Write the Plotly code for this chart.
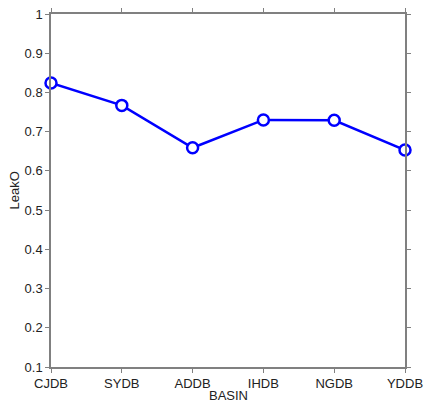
import plotly.graph_objects as go

basins = ["CJDB", "SYDB", "ADDB", "IHDB", "NGDB", "YDDB"]
leako = [0.824, 0.767, 0.659, 0.730, 0.729, 0.653]
y_ticks = [0.1, 0.2, 0.3, 0.4, 0.5, 0.6, 0.7, 0.8, 0.9, 1]
y_tick_text = ["0.1", "0.2", "0.3", "0.4", "0.5", "0.6", "0.7", "0.8", "0.9", "1"]

fig = go.Figure()
fig.add_trace(go.Scatter(
    x=list(range(len(basins))), y=leako, mode="lines+markers",
    line=dict(color="#0000ff", width=2.5),
    marker=dict(symbol="circle", size=11, color="white",
                line=dict(color="#0000ff", width=2.5)),
    cliponaxis=False, showlegend=False,
))

axis_common = dict(
    showline=True, linecolor="#808080", linewidth=1.5, mirror="ticks",
    ticks="outside", ticklen=4, tickcolor="#808080", tickwidth=1,
    showgrid=False, zeroline=False, automargin=False,
    tickfont=dict(family="Liberation Sans, Arial", size=13, color="#222"),
)

fig.update_layout(
    width=426, height=403,
    margin=dict(l=51, r=21, t=14, b=36),
    paper_bgcolor="white", plot_bgcolor="white",
    font=dict(family="Liberation Sans, Arial", size=13, color="#222"),
    xaxis=dict(
        range=[0, len(basins) - 1],
        tickmode="array", tickvals=list(range(len(basins))), ticktext=basins,
        ticklabelstandoff=0,
        **axis_common,
    ),
    yaxis=dict(
        range=[0.1, 1],
        tickmode="array", tickvals=y_ticks, ticktext=y_tick_text,
        **axis_common,
    ),
    annotations=[
        dict(text="BASIN", xref="paper", yref="paper", x=0.5, y=0,
             xanchor="center", yanchor="middle", yshift=-28,
             showarrow=False, font=dict(size=13)),
        dict(text="LeakO", xref="paper", yref="paper", x=0, y=0.5,
             xanchor="center", yanchor="middle", xshift=-37, textangle=-90,
             showarrow=False, font=dict(size=13)),
    ],
)

fig.write_html("out.html", post_script="document.body.style.margin='0';",
               config={"displayModeBar": False})
